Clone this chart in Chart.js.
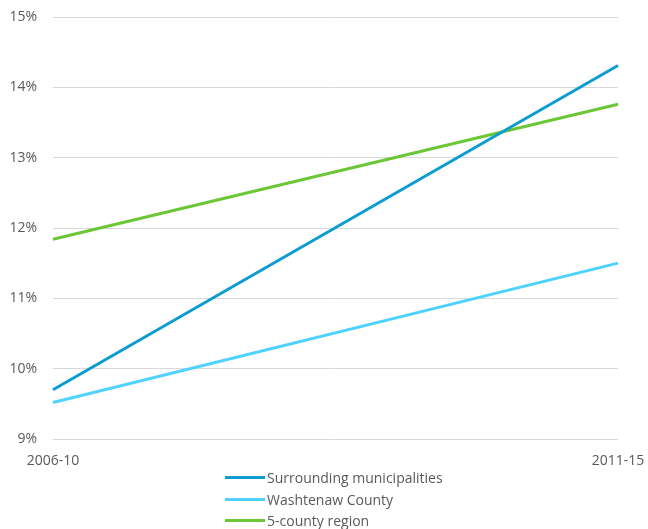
<!DOCTYPE html>
<html>
<head>
<meta charset="utf-8">
<script src="https://cdn.jsdelivr.net/npm/chart.js@4"></script>
<style>
    html, body { margin: 0; padding: 0; background: #fff; }
    #wrap { position: relative; width: 648px; height: 529px; }
    #legend {
        position: absolute; left: 225px; top: 467px;
        font-family: "Open Sans", sans-serif; font-size: 14px; color: #595959;
    }
    .legend-item { display: flex; align-items: center; height: 21.5px; }
    .legend-swatch { width: 40px; height: 3px; margin-right: 2px; }
</style>
</head>
<body>
<div id="wrap">
    <canvas id="chart" width="648" height="529"></canvas>
    <div id="legend"></div>
</div>
<script>
// データ
const periods = ['2006-10', '2011-15'];
const surroundingMunicipalities = [9.70, 14.31];
const washtenawCounty = [9.52, 11.50];
const fiveCountyRegion = [11.84, 13.76];
const yTicks = [9, 10, 11, 12, 13, 14, 15];

const seriesList = [
    { label: 'Surrounding municipalities', data: surroundingMunicipalities, color: '#0C9CD2' },
    { label: 'Washtenaw County', data: washtenawCounty, color: '#4FD2FF' },
    { label: '5-county region', data: fiveCountyRegion, color: '#6CC736' }
];

const tickFont = { family: '"Open Sans", sans-serif', size: 14, lineHeight: 1.2 };

const chart = new Chart(document.getElementById('chart'), {
    type: 'line',
    data: {
        labels: periods,
        datasets: seriesList.map(s => ({
            label: s.label,
            data: s.data,
            borderColor: s.color,
            backgroundColor: s.color,
            borderWidth: 3,
            pointRadius: 0,
            tension: 0
        }))
    },
    options: {
        responsive: false,
        animation: false,
        layout: { autoPadding: false, padding: { left: 0, right: 30, top: 17, bottom: 59 } },
        plugins: {
            legend: { display: false },
            tooltip: { enabled: false }
        },
        scales: {
            x: {
                offset: false,
                grid: { display: false, drawTicks: false },
                border: { display: false },
                ticks: { color: '#595959', font: tickFont, padding: 14, maxRotation: 0 },
                afterFit: axis => {
                    axis.height = 31;
                    axis.paddingLeft = 0;
                    axis.paddingRight = 0;
                }
            },
            y: {
                min: 9,
                max: 15,
                afterBuildTicks: axis => { axis.ticks = yTicks.map(v => ({ value: v })); },
                grid: { color: '#d9d9d9', lineWidth: 1, drawTicks: false },
                border: { display: false },
                ticks: {
                    color: '#595959',
                    font: tickFont,
                    padding: 16,
                    callback: v => v + '%'
                },
                afterFit: axis => {
                    axis.width = 53;
                    axis.paddingTop = 0;
                    axis.paddingBottom = 0;
                }
            }
        }
    }
});

// 凡例（縦並び）
const legend = document.getElementById('legend');
seriesList.forEach(s => {
    const item = document.createElement('div');
    item.className = 'legend-item';
    item.innerHTML = `<span class="legend-swatch" style="background:${s.color}"></span><span>${s.label}</span>`;
    legend.appendChild(item);
});
</script>
</body>
</html>
